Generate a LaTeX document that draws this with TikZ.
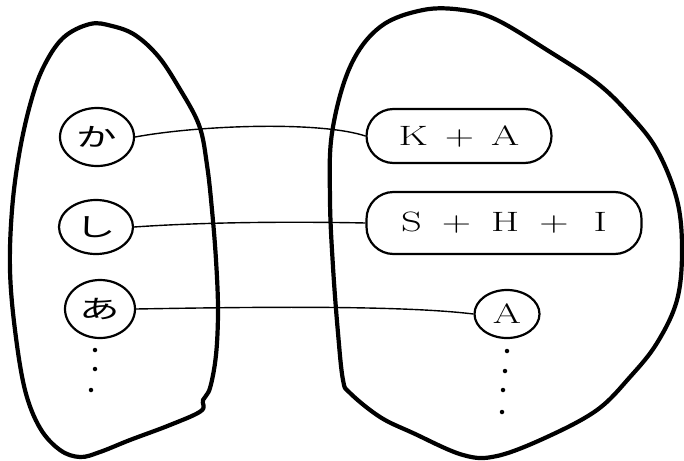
\documentclass[tikz,border=0pt]{standalone}
\usepackage{fontspec}
\newfontfamily\jp{Noto Sans CJK JP}
\usetikzlibrary{shapes.geometric}
\newcommand{\jpw}[1]{\scalebox{1.35}[0.85]{#1}}
\newcommand{\lw}[1]{\scalebox{1.45}[1]{#1}}
\begin{document}
\begin{tikzpicture}[x=1pt,y=-1pt,
  blob/.style={line width=4.2pt,line join=round},
  leftnode/.style={draw,ellipse,line width=2.2pt,minimum width=74pt,minimum height=58pt,inner sep=0pt,font=\jp\fontsize{30}{30}\selectfont},
  rightnode/.style={draw,rectangle,rounded corners=27pt,line width=2.2pt,inner sep=0pt,font=\fontsize{28}{28}\selectfont},
  link/.style={line width=1.4pt},
  dotmark/.style={fill=black,draw=none,circle,inner sep=0pt,minimum size=4.5pt}]
\useasboundingbox (0,0) rectangle (684,460);
% left blob
\draw[blob] plot[smooth cycle,tension=0.6] coordinates {
 (90,24) (112,26) (135,35) (158,56) (178,86) (199,125) (207,165) (212,210)
 (216,260) (218,310) (216,355) (210,388) (203,400) (201,411) (170,425)
 (130,440) (100,452) (80,457) (60,450) (40,428) (25,390) (15,330) (10,270)
 (12,210) (19,155) (30,105) (43,68) (63,38)};
% right blob
\draw[blob] plot[smooth cycle,tension=0.6] coordinates {
 (423,10) (463,10) (497,20) (547,50) (597,83) (630,115) (657,150) (677,200)
 (682,250) (677,300) (657,343) (630,377) (597,410) (547,437) (497,456)
 (463,455) (413,433) (380,417) (350,393) (343,380) (338,333) (333,267)
 (330,200) (332,133) (350,67) (380,27)};
% left nodes
\node[leftnode] (ka) at (97,137) {\jpw{か}};
\node[leftnode,minimum height=54pt] (si) at (96,227) {\jpw{し}};
\node[leftnode,minimum width=70pt] (a) at (100,309) {\jpw{あ}};
% right nodes
\node[rightnode,minimum width=185pt,minimum height=54pt] (KA) at (459,136) {\lw{K}\hspace{17pt}\lw{+}\hspace{17pt}\lw{A}};
\node[rightnode,minimum width=275pt,minimum height=62pt] (SHI) at (504,223) {\lw{S}\hspace{20pt}\lw{+}\hspace{20pt}\lw{H}\hspace{20pt}\lw{+}\hspace{25pt}\lw{I}};
\node[draw,ellipse,line width=2.2pt,minimum width=65pt,minimum height=48pt,inner sep=0pt,font=\fontsize{28}{28}\selectfont] (A) at (507,314) {\lw{A}};
% connectors
\draw[link] (ka.east) .. controls (200,125) and (320,121) .. (KA.west);
\draw[link] (si.east) .. controls (220,221) and (320,222) .. (SHI.west);
\draw[link] (a.east) .. controls (250,307) and (400,305) .. (A.west);
% dots
\node[dotmark] (l1) at (95,350) {};
\node[dotmark] (l2) at (95,369) {};
\node[dotmark] (l3) at (91,390) {};
\node[dotmark] (r1) at (507,351) {};
\node[dotmark] (r2) at (505,371) {};
\node[dotmark] (r3) at (503,390) {};
\node[dotmark] (r4) at (502,412) {};
\end{tikzpicture}
\end{document}
